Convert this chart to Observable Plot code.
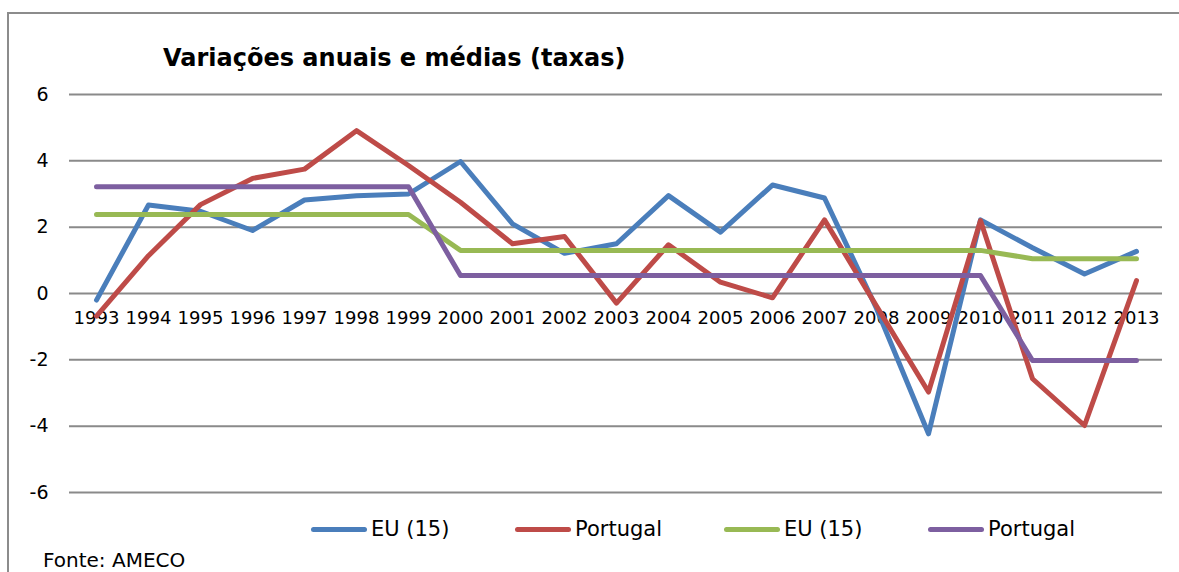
<!DOCTYPE html>
<html>
<head>
<meta charset="utf-8">
<script src="https://cdn.jsdelivr.net/npm/d3@7"></script>
<script src="https://cdn.jsdelivr.net/npm/@observablehq/plot@0.6"></script>
<style>
  html, body { margin: 0; padding: 0; background: #fff; }
  #wrap { position: relative; width: 1179px; height: 572px; overflow: hidden; font-family: "DejaVu Sans", Verdana, sans-serif; color: #000; }
  #frame { position: absolute; left: 7px; top: 12px; width: 1200px; height: 600px; border-left: 2px solid #8c8c8c; border-top: 2px solid #8c8c8c; }
  #chart { position: absolute; left: 0; top: 0; }
  #title { position: absolute; left: 163px; top: 45px; font-size: 24px; font-weight: bold; white-space: nowrap; line-height: 26px; }
  .leg { position: absolute; top: 517px; display: flex; align-items: center; font-size: 21px; white-space: nowrap; line-height: 24px; }
  .sw { display: inline-block; width: 56px; height: 5px; border-radius: 3px; margin-right: 4px; }
  #source { position: absolute; left: 43px; top: 550px; font-size: 20px; white-space: nowrap; line-height: 21px; }
</style>
</head>
<body>
<div id="wrap">
  <div id="frame"></div>
  <div id="chart"></div>
  <div id="title">Variações anuais e médias (taxas)</div>
  <div id="legend"></div>
  <div id="source">Fonte: AMECO</div>
</div>
<script>
const years = ["1993","1994","1995","1996","1997","1998","1999","2000","2001","2002","2003","2004","2005","2006","2007","2008","2009","2010","2011","2012","2013"];
const eu15 = [-0.2, 2.67, 2.48, 1.9, 2.82, 2.95, 3.0, 3.98, 2.1, 1.21, 1.5, 2.95, 1.85, 3.27, 2.88, -0.45, -4.23, 2.22, 1.38, 0.59, 1.27];
const portugal = [-0.68, 1.14, 2.68, 3.47, 3.75, 4.91, 3.86, 2.75, 1.5, 1.72, -0.29, 1.47, 0.34, -0.13, 2.22, -0.38, -2.97, 2.2, -2.57, -3.98, 0.39];
const eu15Avg = [2.38, 2.38, 2.38, 2.38, 2.38, 2.38, 2.38, 1.3, 1.3, 1.3, 1.3, 1.3, 1.3, 1.3, 1.3, 1.3, 1.3, 1.3, 1.05, 1.05, 1.05];
const portugalAvg = [3.22, 3.22, 3.22, 3.22, 3.22, 3.22, 3.22, 0.54, 0.54, 0.54, 0.54, 0.54, 0.54, 0.54, 0.54, 0.54, 0.54, 0.54, -2.02, -2.02, -2.02];
const yTicks = [-6, -4, -2, 0, 2, 4, 6];
const seriesNames = ["EU (15)", "Portugal", "EU (15)", "Portugal"];
const seriesColors = ["#4a7ebb", "#be4b48", "#98b954", "#7d5fa0"];

const seriesValues = [eu15, portugal, eu15Avg, portugalAvg];
const rows = seriesValues.map((vals, s) => years.map((yr, i) => ({year: yr, value: vals[i], s})));

const lineMarks = rows.map((data, s) =>
  Plot.line(data, {x: "year", y: "value", stroke: seriesColors[s], strokeWidth: 5, strokeLinecap: "round", strokeLinejoin: "round"})
);

const chart = Plot.plot({
  width: 1179,
  height: 572,
  marginTop: 94,
  marginBottom: 80,
  marginLeft: 69,
  marginRight: 17,
  style: {fontFamily: "DejaVu Sans, Verdana, sans-serif", fontSize: "18px", color: "#000", background: "transparent", overflow: "visible"},
  x: {type: "point", domain: years, padding: 0.5, axis: null},
  y: {domain: [-6, 6], axis: null},
  marks: [
    Plot.ruleY(yTicks, {stroke: "#8a8a8a", strokeWidth: 2}),
    Plot.text(yTicks, {y: d => d, frameAnchor: "left", dx: -21, textAnchor: "end", text: d => d.toString(), fontSize: 19, fill: "#000"}),
    Plot.text(years, {x: d => d, y: () => 0, dy: 25, fontSize: 18, fill: "#000"}),
    ...lineMarks
  ]
});
document.getElementById("chart").appendChild(chart);

const legendPos = [[311, 371], [515, 575], [724, 785], [928, 989]];
const legend = document.getElementById("legend");
seriesNames.forEach((name, i) => {
  const item = document.createElement("div");
  item.className = "leg";
  item.style.left = legendPos[i][0] + "px";
  const sw = document.createElement("span");
  sw.className = "sw";
  sw.style.background = seriesColors[i];
  item.appendChild(sw);
  const t = document.createElement("span");
  t.textContent = name;
  item.appendChild(t);
  legend.appendChild(item);
});
</script>
</body>
</html>
